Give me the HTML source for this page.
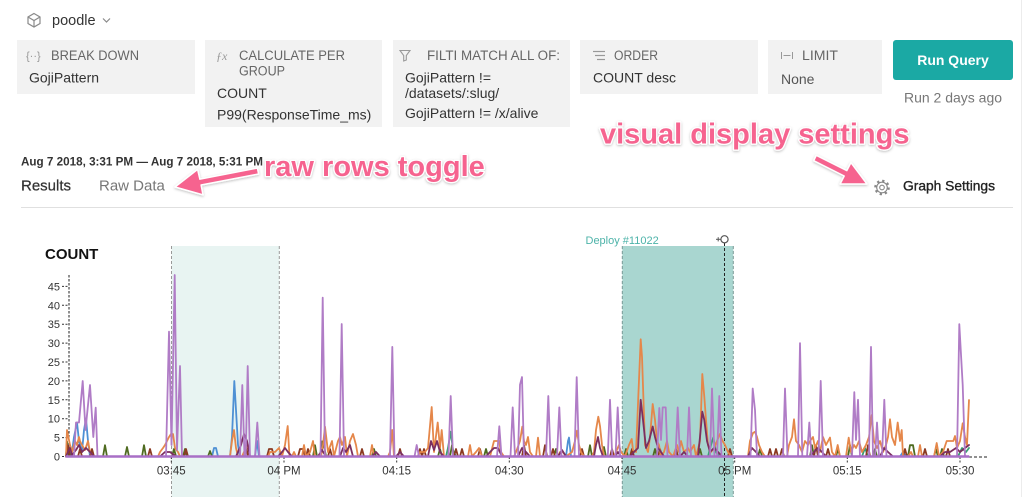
<!DOCTYPE html>
<html>
<head>
<meta charset="utf-8">
<style>
  html,body{margin:0;padding:0;background:#fff;}
  body{width:1024px;height:497px;overflow:hidden;position:relative;font-family:"Liberation Sans",Arial,sans-serif;}
  .box{position:absolute;background:#f2f2f2;top:40px;}
  svg{position:absolute;left:0;top:0;}
</style>
</head>
<body>
<div class="box" style="left:17px;width:178px;height:54px;"></div>
<div class="box" style="left:205px;width:177px;height:87px;"></div>
<div class="box" style="left:393px;width:177px;height:87px;"></div>
<div class="box" style="left:580px;width:178px;height:54px;"></div>
<div class="box" style="left:768px;width:114px;height:54px;"></div>
<div style="position:absolute;left:893px;top:40px;width:120px;height:40px;background:#1ba9a4;border-radius:3px;"></div>

<svg width="1024" height="497" viewBox="0 0 1024 497" xmlns="http://www.w3.org/2000/svg" font-family="Liberation Sans, Arial, sans-serif">
  <defs>
    <filter id="sh" x="-10%" y="-30%" width="120%" height="160%">
      <feDropShadow dx="0" dy="1" stdDeviation="1.2" flood-color="#000" flood-opacity="0.25"/>
    </filter>
  </defs>

  <line x1="1021.5" y1="0" x2="1021.5" y2="497" stroke="#ececec" stroke-width="1"/>

  <g stroke="#8a8a8a" stroke-width="1.2" fill="none">
    <polygon points="34,13.5 40,17 40,23.5 34,27 28,23.5 28,17"/>
    <polyline points="28,17 34,20.5 40,17"/>
    <line x1="34" y1="20.5" x2="34" y2="27"/>
    <polyline points="103,18.5 106.5,22 110,18.5"/>
  </g>
  <text x="52" y="25" font-size="14.5" fill="#333" font-weight="500">poodle</text>

  <!-- box 1 -->
  <text x="26" y="59.5" font-size="11" fill="#999">{··}</text>
  <text x="51" y="60" font-size="13.5" fill="#666" textLength="88" lengthAdjust="spacingAndGlyphs">BREAK DOWN</text>
  <text x="29" y="82.5" font-size="14" fill="#333">GojiPattern</text>

  <!-- box 2 -->
  <text x="216" y="60" font-size="12" fill="#999" font-style="italic" font-family="Liberation Serif, serif">ƒx</text>
  <text x="239" y="60" font-size="13.5" fill="#666" textLength="106" lengthAdjust="spacingAndGlyphs">CALCULATE PER</text>
  <text x="239" y="75.5" font-size="13.5" fill="#666" textLength="46" lengthAdjust="spacingAndGlyphs">GROUP</text>
  <text x="217" y="98" font-size="14" fill="#333">COUNT</text>
  <text x="217" y="119.5" font-size="14" fill="#333">P99(ResponseTime_ms)</text>

  <!-- box 3 -->
  <polygon points="400,50.5 410,50.5 406.3,55.5 406.3,60 403.7,61 403.7,55.5" fill="none" stroke="#999" stroke-width="1.1"/>
  <text x="427" y="60" font-size="13.5" fill="#666" textLength="133" lengthAdjust="spacingAndGlyphs">FILTI MATCH ALL OF:</text>
  <text x="405" y="82.5" font-size="14" fill="#333">GojiPattern !=</text>
  <text x="405" y="98" font-size="14" fill="#333">/datasets/:slug/</text>
  <text x="405" y="118" font-size="14" fill="#333">GojiPattern != /x/alive</text>

  <!-- box 4 -->
  <g stroke="#999" stroke-width="1.2">
    <line x1="593" y1="51.5" x2="605" y2="51.5"/>
    <line x1="595" y1="55.5" x2="605" y2="55.5"/>
    <line x1="597" y1="59.5" x2="605" y2="59.5"/>
  </g>
  <text x="614" y="60" font-size="13.5" fill="#666" textLength="44" lengthAdjust="spacingAndGlyphs">ORDER</text>
  <text x="593" y="82.5" font-size="14" fill="#333">COUNT desc</text>

  <!-- box 5 -->
  <g stroke="#999" stroke-width="1">
    <line x1="781.5" y1="52" x2="781.5" y2="59"/>
    <line x1="792.5" y1="52" x2="792.5" y2="59"/>
    <line x1="783.5" y1="55.5" x2="790.5" y2="55.5"/>
  </g>
  <text x="802" y="60" font-size="13.5" fill="#666" textLength="36" lengthAdjust="spacingAndGlyphs">LIMIT</text>
  <text x="781" y="84" font-size="14" fill="#555">None</text>

  <text x="953" y="65" font-size="14" fill="#fff" font-weight="bold" text-anchor="middle">Run Query</text>
  <text x="953" y="102.5" font-size="14" fill="#777" text-anchor="middle">Run 2 days ago</text>

  <text x="21" y="165.5" font-size="12" fill="#333" font-weight="bold" textLength="242" lengthAdjust="spacingAndGlyphs">Aug 7 2018, 3:31 PM — Aug 7 2018, 5:31 PM</text>
  <text x="21" y="190.5" font-size="15" fill="#333" stroke="#333" stroke-width="0.25">Results</text>
  <text x="99" y="190.5" font-size="15" fill="#777">Raw Data</text>
  <line x1="21" y1="207.5" x2="1013" y2="207.5" stroke="#e0e0e0" stroke-width="1"/>

  <g fill="none" stroke="#888">
    <circle cx="882" cy="187.5" r="6.5" stroke-width="2.6" stroke-dasharray="2.2,2.9"/>
    <circle cx="882" cy="187.5" r="5.3" stroke-width="1.1"/>
    <circle cx="882" cy="187.5" r="2.3" stroke-width="1.1"/>
  </g>
  <text x="903" y="190.5" font-size="14" fill="#222" stroke="#222" stroke-width="0.35" textLength="92" lengthAdjust="spacingAndGlyphs">Graph Settings</text>

  <g filter="url(#sh)">
    <polygon points="257.4,168 199.9,179.2 197.6,169.4 175,187 203,194.9 201.1,185 258.6,174" fill="#f6638f" stroke="#fff" stroke-width="1.5" stroke-linejoin="round"/>
    <polygon points="816.3,155.3 846.8,170.6 850.9,162.6 867,184 840.1,184 844.2,176 813.7,160.7" fill="#f6638f" stroke="#fff" stroke-width="1.5" stroke-linejoin="round"/>
    <text x="264" y="176" font-size="29" font-weight="bold" fill="#f6638f" stroke="#fff" stroke-width="2.5" paint-order="stroke" stroke-linejoin="round">raw rows toggle</text>
    <text x="600" y="143.5" font-size="29" font-weight="bold" fill="#f6638f" stroke="#fff" stroke-width="2.5" paint-order="stroke" stroke-linejoin="round">visual display settings</text>
  </g>

  <!-- ===== CHART ===== -->
  <text x="45" y="259" font-size="15" font-weight="bold" fill="#111">COUNT</text>

  <rect x="171.5" y="246" width="107.8" height="251" fill="#e8f4f2"/>
  <line x1="171.5" y1="246" x2="171.5" y2="497" stroke="#999" stroke-dasharray="3,2"/>
  <line x1="279.3" y1="246" x2="279.3" y2="497" stroke="#999" stroke-dasharray="3,2"/>
  <rect x="622.3" y="246" width="111" height="251" fill="#a9d6d0"/>
  <line x1="622.3" y1="246" x2="622.3" y2="497" stroke="#7a9a96" stroke-dasharray="3,2"/>
  <line x1="733.3" y1="246" x2="733.3" y2="497" stroke="#7a9a96" stroke-dasharray="3,2"/>

  <text x="585.5" y="244" font-size="11" fill="#4db3a9">Deploy #11022</text>
  <line x1="724.5" y1="243" x2="724.5" y2="497" stroke="#222" stroke-width="1" stroke-dasharray="3,2"/>
  <circle cx="724.5" cy="239.3" r="3.6" fill="#fff" stroke="#555" stroke-width="1.2"/>
  <line x1="716" y1="239.3" x2="720.5" y2="239.3" stroke="#555" stroke-width="1"/>
  <line x1="718.2" y1="237.2" x2="718.2" y2="241.4" stroke="#555" stroke-width="1"/>

  <line x1="69" y1="275" x2="69" y2="457" stroke="#222" stroke-width="1" stroke-dasharray="2.5,1.5"/>
  <g stroke="#333" stroke-width="1" stroke-dasharray="2,1.5">
    <line x1="62" y1="456.5" x2="69" y2="456.5"/>
    <line x1="62" y1="437.6" x2="69" y2="437.6"/>
    <line x1="62" y1="418.7" x2="69" y2="418.7"/>
    <line x1="62" y1="399.8" x2="69" y2="399.8"/>
    <line x1="62" y1="380.9" x2="69" y2="380.9"/>
    <line x1="62" y1="362" x2="69" y2="362"/>
    <line x1="62" y1="343.1" x2="69" y2="343.1"/>
    <line x1="62" y1="324.2" x2="69" y2="324.2"/>
    <line x1="62" y1="305.3" x2="69" y2="305.3"/>
    <line x1="62" y1="286.4" x2="69" y2="286.4"/>
  </g>
  <g font-size="11" fill="#333" text-anchor="end">
    <text x="60" y="460.5">0</text>
    <text x="60" y="441.6">5</text>
    <text x="60" y="422.7">10</text>
    <text x="60" y="403.8">15</text>
    <text x="60" y="384.9">20</text>
    <text x="60" y="366">25</text>
    <text x="60" y="347.1">30</text>
    <text x="60" y="328.2">35</text>
    <text x="60" y="309.3">40</text>
    <text x="60" y="290.4">45</text>
  </g>

  <line x1="69" y1="457" x2="988" y2="457" stroke="#222" stroke-width="1" stroke-dasharray="3,2"/>
  <g stroke="#333" stroke-width="1" stroke-dasharray="2,1.5">
    <line x1="171.3" y1="457" x2="171.3" y2="463"/>
    <line x1="284" y1="457" x2="284" y2="463"/>
    <line x1="396.7" y1="457" x2="396.7" y2="463"/>
    <line x1="509.3" y1="457" x2="509.3" y2="463"/>
    <line x1="622" y1="457" x2="622" y2="463"/>
    <line x1="734.7" y1="457" x2="734.7" y2="463"/>
    <line x1="847.3" y1="457" x2="847.3" y2="463"/>
    <line x1="960" y1="457" x2="960" y2="463"/>
  </g>
  <g font-size="11.5" fill="#333" text-anchor="middle">
    <text x="171.3" y="474.5">03:45</text>
    <text x="284" y="474.5">04 PM</text>
    <text x="396.7" y="474.5">04:15</text>
    <text x="509.3" y="474.5">04:30</text>
    <text x="622" y="474.5">04:45</text>
    <text x="734.7" y="474.5">05 PM</text>
    <text x="847.3" y="474.5">05:15</text>
    <text x="960" y="474.5">05:30</text>
  </g>

  <g fill="none" stroke-width="1.8" stroke-linejoin="round" stroke-linecap="round">
    <path stroke="#4e90d4" d="M66,456.5 L69,445 L72,452 L74,437 L77,422.5 L79,441 L82,452 L84,430 L86,418.7 L88,441 L90,456.5 L212,456.5 L214,448 L216,448 L218,456.5 L230,456.5 L232,437 L234.3,381 L236,410 L238,445 L240,456.5 L255,456.5 L257,441 L259,456.5 L566,456.5 L568,441 L569,437.6 L571,456.5 L900,456.5 L903,452 L906,456.5"/>
    <path stroke="#3a9e73" d="M66,456.5 L67,445 L69,452 L72,456.5 L446,456.5 L448,448 L450.7,431.7 L453,450 L456,456.5 L708,456.5 L711,445 L713.3,437.6 L716,452 L719,456.5 L862,456.5 L865,448 L868,456.5 L958,456.5 L962,448 L966,452 L969,448"/>
    <path stroke="#4f6b20" d="M66,456.5 L67,441.4 L69,456.5 M103,456.5 L105,445.2 L107,456.5 M125,456.5 L127,447 L129,456.5 M142,456.5 L144,445.2 L146,456.5 M172,456.5 L174,449 L176,456.5 M183,456.5 L185,449 L187,456.5 M208,456.5 L210,451 L212,456.5 M313,456.5 L315,445.2 L317,456.5 M320,456.5 L322,441.4 L324,445.2 L326,456.5 M372,456.5 L374,449 L376,456.5 M438,456.5 L440,449 L442,456.5 M450,456.5 L452,445.2 L454,456.5 M484,456.5 L486,449 L488,456.5 M554,456.5 L556,449 L558,456.5 M588,456.5 L590,445.2 L592,456.5 M602,456.5 L604,447 L606,456.5 M624,456.5 L626,449 L628,456.5 M653,456.5 L655,449 L657,456.5 M698,456.5 L700,449 L702,456.5 M758,456.5 L760,449 L762,456.5 M810,456.5 L812,445.2 L814,456.5 M836,456.5 L838,449 L840,456.5 M848,456.5 L850,445.2 L852,456.5 M873,456.5 L875,449 L877,456.5 M908,456.5 L910,445.2 L913,445.2 L915,456.5 M934,456.5 L936,449 L938,456.5 M940,456.5 L942,449 L944,456.5"/>
    <path stroke="#8b3a22" d="M66,456.5 L68,445.2 L70,456.5 M78,456.5 L80,449 L82,456.5 M90,456.5 L92,449 L94,456.5 M148,456.5 L150,449 L152,456.5 M184,456.5 L186,449 L188,456.5 M244,456.5 L246,445.2 L248,456.5 M267,456.5 L269,449 L272,449 L274,456.5 M298,456.5 L300,449 L303,449 L305,456.5 M306,456.5 L308,449 L310,456.5 M328,456.5 L330,449 L332,456.5 M360,456.5 L362,449 L364,456.5 M398,456.5 L400,449 L402,456.5 M418,456.5 L420,449 L422,456.5 L424,449 L426,456.5 M454,456.5 L456,449 L458,456.5 M460,456.5 L462,449 L464,456.5 M478,456.5 L480,449 L482,456.5 M522,456.5 L524,445.2 L526,456.5 M543,456.5 L545,445.2 L547,456.5 M551,456.5 L553,449 L555,456.5 M580,456.5 L582,449 L584,456.5 M610,456.5 L612,449 L614,456.5 M630,456.5 L632,449 L634,456.5 M658,456.5 L660,449 L662,456.5 M674,456.5 L676,449 L678,456.5 M728,456.5 L730,449 L732,456.5 M768,456.5 L770,449 L772,456.5 M774,456.5 L776,449 L778,456.5 M780,456.5 L782,449 L784,456.5 M814,456.5 L816,445.2 L818,456.5 M826,456.5 L828,449 L830,456.5 M866,456.5 L868,445.2 L870,456.5 M903,456.5 L905,449 L907,456.5 M923,456.5 L925,449 L927,456.5 M946,456.5 L948,449 L950,456.5"/>
    <path stroke="#e5874a" d="M66,456.5 L67,430 L70,445 L72,452 L75,441 L77,445 L79,437 L80,441 L82,445 L85,450 L88,441 L90,452 L93,456.5 L158,456.5 L160,452 L163,448 L165,445 L167,441 L169,437 L171,434 L173,434 L175,448 L178,452 L180,456.5 L230,456.5 L232,441 L234,430 L236,448 L238,456.5 L242,456.5 L244,452 L248,445 L250,456.5 L268,456.5 L270,452 L275,452 L279,448 L282,456.5 L285,445 L287.7,426 L289.5,456.5 L292,456.5 L294,452 L296,456.5 L302,456.5 L304,445 L306,456.5 L310,452 L313,441 L315,456.5 L321,456.5 L323,445 L325,426.7 L328,452 L332,441 L334,456.5 L338,441 L340,437 L342,445 L345,437 L347,456.5 L350,441 L353,434 L356,445 L358,456.5 L370,456.5 L372,445 L374,456.5 L388,456.5 L390,452 L392.3,430 L394,456.5 L418,456.5 L420,452 L425,452 L428,448 L431.7,407 L434,452 L437.7,422.5 L440,448 L441.7,430 L444,456.5 L468,456.5 L470,445 L472,456.5 L476,452 L479,448 L482,456.5 L490,456.5 L494,441 L499,441 L501,452 L504,456.5 L514,456.5 L516,452 L520,441 L522.3,426.7 L524,441 L526,445 L528,437 L530,452 L533,456.5 L536,456.5 L538,437.6 L540,456.5 L558,456.5 L560,452 L563,452 L566,456.5 L572,452 L575,441 L577,430.7 L579,445 L581,452 L584,456.5 L592,456.5 L594,452 L596,430 L598.3,416.7 L600,426 L602,445 L604,456.5 L614,456.5 L616,452 L619,445 L621,452 L625,456.5 L629,445 L631.7,439 L633,450 L636,452 L640.7,339.3 L642,356.7 L645,445 L648,452 L650,437 L652.7,404 L655,420 L657,441 L659,445 L661,456.5 L664,452 L667,441 L669,452 L673,456.5 L677,445 L679,452 L681,441 L684,452 L688,448 L690,452 L694,445 L696,456.5 L700,441 L702.3,374 L704.3,396.7 L706,420 L708,445 L711,452 L714,448 L717,441 L720,433.8 L722,440 L725,445 L728,452 L731,456.5 L748,456.5 L750,441 L753,433 L755,431.7 L757,437 L759,445 L762,452 L765,456.5 L787,456.5 L789,445 L792,437 L794,419.3 L796,441 L799,445 L802,452 L805,441 L808,445 L810,441 L813,437 L815,448 L818,441 L820,452 L823,437 L826,445 L830,437.6 L832,452 L835,456.5 L837.7,445 L840,456.5 L846,456.5 L848.7,437.6 L851,452 L854,445 L856,448 L859,441 L862,452 L866,445 L869,437 L871.7,415 L874,441 L877,448 L880,441 L883,452 L886,445 L888,437 L890,419.3 L892,437 L895,445 L897.7,422.5 L900,441 L901.7,430 L903,456.5 L908,456.5 L911,452 L913,456.5 L918,456.5 L920,445 L922,456.5 L934,456.5 L936.7,443 L939,456.5 L943,452 L946.7,441 L953.3,441 L955,436 L957,448 L960,441 L962.7,423.3 L965,437 L967,445 L969,400"/>
    <path stroke="#7b2f60" d="M66,456.5 L68,452 L70,448 L72,455 L76,450 L79,445 L82,452 L86,448 L90,452 L94,456.5 L160,456.5 L165,452 L170,452 L176,456.5 L236,456.5 L238,452 L241,445 L244,434 L247,441 L250,456.5 L278,456.5 L282,452 L285,448 L288,452 L292,456.5 L318,456.5 L322,450 L326,456.5 L340,456.5 L343,448 L346,452 L350,445 L353,456.5 L372,456.5 L376,452 L380,456.5 L396,456.5 L400,452 L404,456.5 L428,456.5 L431,441 L434,450 L437,441 L440,452 L444,456.5 L486,456.5 L490,452 L494,448 L498,448 L502,456.5 L518,456.5 L522,448 L526,452 L530,456.5 L558,456.5 L562,450 L566,456.5 L594,456.5 L596,445 L598,437 L600,448 L603,456.5 L615,456.5 L618,452 L621,456.5 L630,456.5 L634,452 L638,448 L640.7,399.8 L643,420 L646,448 L649,441 L652.7,426.5 L655,437 L658,448 L661,452 L664,456.5 L680,456.5 L684,452 L688,456.5 L698,456.5 L700,437 L702.3,411.7 L704.3,420 L707,441 L710,452 L714,448 L718,452 L722,456.5 L748,456.5 L752,448 L756,452 L760,456.5 L810,456.5 L814,452 L818,448 L822,452 L826,456.5 L880,456.5 L884,448 L888,452 L893,456.5 L940,456.5 L945,452 L950,452 L956,448 L960,452 L965,448 L969,445"/>
    <path stroke="#b07cc6" d="M66,456.5 L74,456.5 L76,422.5 L79,422.5 L82.7,381 L85.5,430 L90,385 L93.3,437 L95.7,407.7 L97.5,456.5 L166,456.5 L169,331.7 L171.5,445 L174.7,275 L177,450 L180,366 L182,456.5 L240,456.5 L242.3,385 L244.5,456.5 L245.7,456.5 L247.7,366 L250,456.5 L255,456.5 L257.3,422.5 L259.5,456.5 L320.5,456.5 L322.7,297.7 L325,456.5 L339.5,456.5 L341.7,324 L344,456.5 L390,456.5 L392.3,346.9 L394.5,456.5 L414.5,456.5 L416.7,445 L419,456.5 L448.5,456.5 L450.7,396 L453,456.5 L497,456.5 L499.3,426.3 L501.5,456.5 L510.5,456.5 L512.7,407.4 L515,456.5 L518,456.5 L520,384.7 L522,377.1 L524,456.5 L546,456.5 L548.3,396 L550.5,456.5 L557,456.5 L559.3,407.4 L561.5,456.5 L574.5,456.5 L576.7,377.1 L579,456.5 L607.8,456.5 L610,399.8 L612.2,456.5 L615.5,456.5 L617.7,407.4 L620,456.5 L657,456.5 L659.3,408 L661,440 L662.7,407.4 L665.7,407.4 L667.5,456.5 L675.5,456.5 L677.7,407.4 L680,456.5 L687,456.5 L689,407.4 L691,456.5 L710,456.5 L712,388.5 L714.5,456.5 L717,456.5 L719.3,396 L721.5,456.5 L750.5,456.5 L752.7,388.5 L755,410 L757,456.5 L783,456.5 L785,388.5 L787.5,456.5 L798,456.5 L800,343.1 L802.3,456.5 L807,456.5 L809.3,422.5 L811.5,456.5 L818.5,456.5 L820.7,380.9 L823,456.5 L852,456.5 L854.3,392.2 L856,440 L858,399.8 L860,456.5 L869,456.5 L871,346.9 L873,456.5 L875,456.5 L877,422.5 L879,456.5 L882,456.5 L884.3,399.8 L886.5,456.5 L957,456.5 L959.3,324.2 L962.7,385 L965,456.5 L969,456.5"/>
  </g>
  <line x1="66" y1="456.5" x2="969" y2="456.5" stroke="#a86fc6" stroke-width="2.4"/>
</svg>
</body>
</html>
